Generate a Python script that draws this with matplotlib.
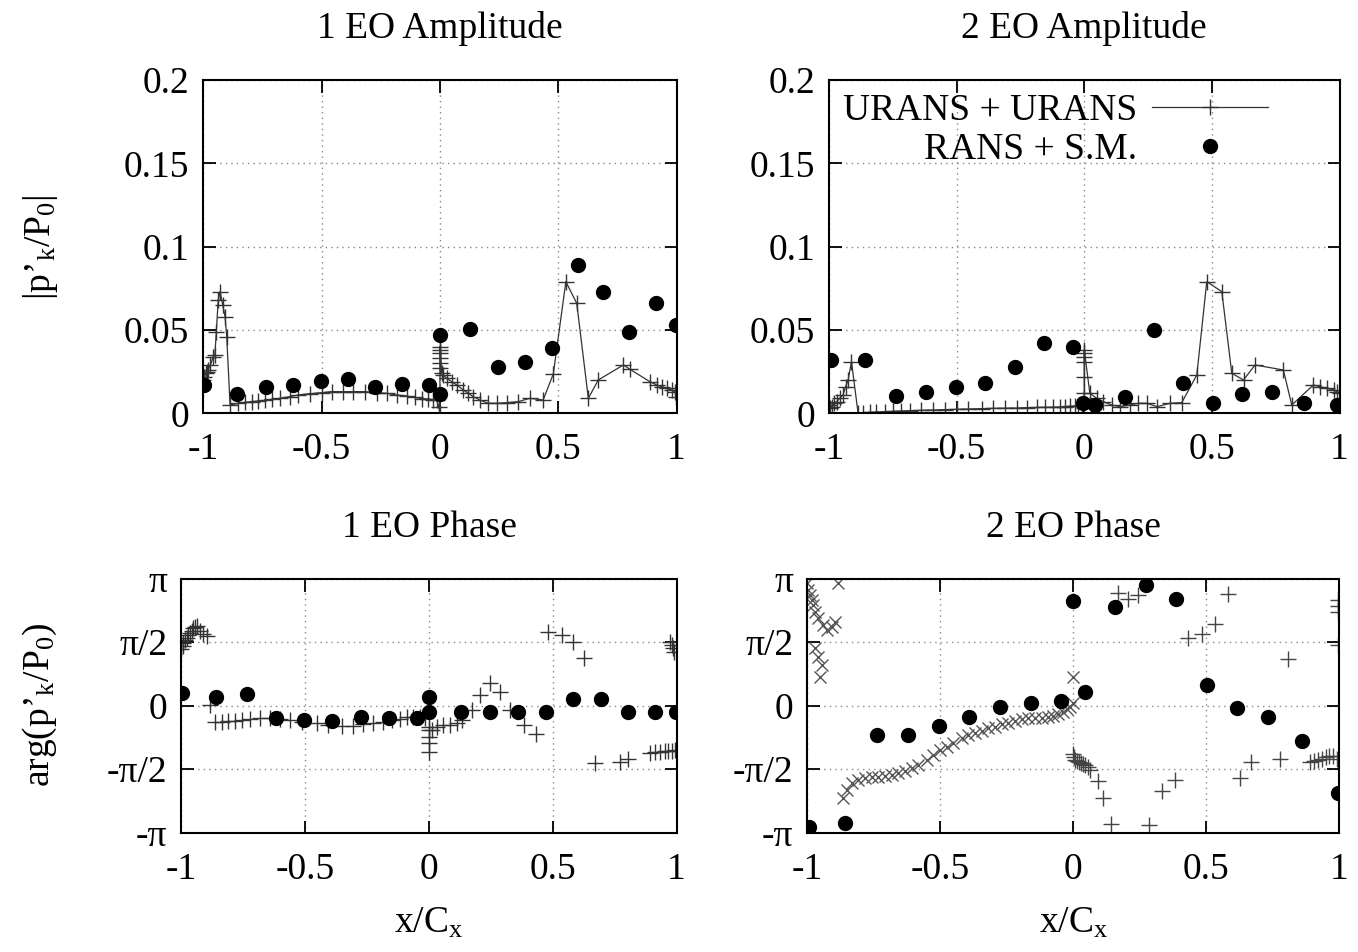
"""
Unsteady pressure harmonics: amplitude and phase of 1 EO and 2 EO
URANS + URANS vs RANS + S.M.
"""

import numpy as np
import matplotlib
matplotlib.use('Agg')
import matplotlib.pyplot as plt

plt.rcParams['font.family'] = ['Liberation Serif', 'DejaVu Serif']
plt.rcParams['mathtext.fontset'] = 'custom'
plt.rcParams['mathtext.rm'] = 'Liberation Serif'
plt.rcParams['mathtext.it'] = 'Liberation Serif'
plt.rcParams['axes.unicode_minus'] = False

FS = 27

# ---------------- 1 EO amplitude ----------------
amp1_urans_x = [-1.0, -0.995, -0.99, -0.985, -0.98, -0.97, -0.958, -0.951, -0.945, -0.937, -0.929,
                -0.918, -0.908, -0.901, -0.887,
                -0.852, -0.824, -0.796, -0.768, -0.739, -0.711, -0.676, -0.634, -0.599, -0.549,
                -0.500, -0.458, -0.408, -0.366, -0.317, -0.267, -0.225, -0.183, -0.141, -0.106,
                -0.077, -0.049, -0.028, -0.014, -0.005, 0.0,
                0.0, 0.0, 0.0, 0.0, 0.0, 0.0,
                0.007, 0.014, 0.028, 0.049, 0.071, 0.099, 0.120, 0.141, 0.169, 0.204, 0.240,
                0.282, 0.331, 0.380, 0.436, 0.479, 0.532, 0.578, 0.627, 0.669, 0.775, 0.803,
                0.887, 0.916, 0.937, 0.958, 0.979, 0.993, 0.997]
amp1_urans_y = [0.020, 0.022, 0.024, 0.025, 0.026, 0.029, 0.034, 0.035, 0.049, 0.068, 0.073,
                0.065, 0.058, 0.046, 0.005,
                0.006, 0.0066, 0.007, 0.0074, 0.0078, 0.0084, 0.009, 0.010, 0.011, 0.0118,
                0.0124, 0.013, 0.013, 0.013, 0.013, 0.0124, 0.012, 0.011, 0.0104, 0.0095,
                0.0088, 0.0086, 0.0082, 0.008, 0.004, 0.0,
                0.027, 0.030, 0.033, 0.036, 0.038, 0.040,
                0.024, 0.023, 0.021, 0.019, 0.017, 0.014, 0.012, 0.010, 0.008, 0.006, 0.006,
                0.0064, 0.007, 0.009, 0.008, 0.0236, 0.079, 0.066, 0.009, 0.020, 0.029, 0.0264,
                0.019, 0.017, 0.016, 0.015, 0.014, 0.013, 0.010]
amp1_rans_x = [-0.996, -0.859, -0.737, -0.620, -0.503, -0.390, -0.275, -0.162, -0.045, 0.0, 0.0,
               0.127, 0.246, 0.359, 0.472, 0.582, 0.690, 0.800, 0.911, 0.997]
amp1_rans_y = [0.017, 0.0116, 0.016, 0.017, 0.0194, 0.0204, 0.016, 0.0176, 0.017, 0.047, 0.0116,
               0.0504, 0.0276, 0.031, 0.0394, 0.089, 0.073, 0.049, 0.066, 0.053]

# ---------------- 2 EO amplitude ----------------
amp2_urans_x = [-1.0, -0.995, -0.99, -0.98, -0.97, -0.958, -0.945, -0.935, -0.925, -0.912, -0.886,
                -0.867, -0.840, -0.814, -0.782, -0.749, -0.716, -0.684, -0.638, -0.592, -0.546,
                -0.500, -0.455, -0.402, -0.357, -0.311, -0.265, -0.226, -0.187, -0.154, -0.122,
                -0.095, -0.076, -0.056, -0.036, -0.024, -0.010, 0.0,
                0.0, 0.0, 0.0, 0.0, 0.0, 0.0,
                0.022, 0.049, 0.075, 0.107, 0.140, 0.179, 0.212, 0.245, 0.286, 0.336, 0.382,
                0.441, 0.480, 0.539, 0.578, 0.624, 0.669, 0.780, 0.813, 0.898, 0.924, 0.951,
                0.977, 0.990, 1.0]
amp2_urans_y = [0.005, 0.003, 0.004, 0.006, 0.007, 0.009, 0.011, 0.016, 0.020, 0.031, 0.0,
                0.0004, 0.0006, 0.0008, 0.001, 0.0012, 0.0014, 0.0016, 0.0018, 0.002, 0.0022,
                0.0024, 0.0026, 0.0028, 0.003, 0.0031, 0.0032, 0.0034, 0.0035, 0.0036, 0.0037,
                0.0038, 0.004, 0.0042, 0.0043, 0.0044, 0.0045, 0.003,
                0.012, 0.022, 0.031, 0.034, 0.036, 0.038,
                0.012, 0.009, 0.007, 0.005, 0.004, 0.005, 0.006, 0.006, 0.004, 0.006, 0.0064,
                0.023, 0.079, 0.073, 0.024, 0.020, 0.029, 0.026, 0.005, 0.017, 0.016, 0.015,
                0.014, 0.013, 0.012]
amp2_rans_x = [-0.993, -0.860, -0.736, -0.621, -0.503, -0.387, -0.272, -0.158, -0.045, -0.004,
               0.042, 0.160, 0.273, 0.388, 0.503, 0.617, 0.735, 0.862, 0.990]
amp2_rans_y = [0.032, 0.032, 0.0106, 0.013, 0.0156, 0.018, 0.028, 0.042, 0.040, 0.006,
               0.005, 0.010, 0.050, 0.018, 0.0064, 0.0116, 0.0126, 0.006, 0.005]

# ---------------- 1 EO phase ----------------
ph1_urans_x = [-1.0, -0.995, -0.992, -0.985, -0.979, -0.972, -0.965, -0.958, -0.952, -0.945,
               -0.938, -0.925, -0.911, -0.898, -0.884,
               -0.864, -0.837, -0.811, -0.784, -0.757, -0.723, -0.683, -0.642, -0.602, -0.561,
               -0.514, -0.454, -0.407, -0.353, -0.306, -0.265, -0.225, -0.185, -0.151, -0.117,
               -0.090, -0.063, -0.036, -0.016,
               0.0, 0.0, 0.0, 0.0, 0.0,
               0.011, 0.031, 0.058, 0.085, 0.112, 0.132, 0.172, 0.206, 0.246, 0.287, 0.327,
               0.384, 0.432, 0.482, 0.536, 0.583, 0.626, 0.670, 0.771, 0.805,
               0.892, 0.913, 0.933, 0.953, 0.967, 0.980, 0.993,
               0.975, 0.98, 0.985, 0.99]
ph1_urans_y = [1.40, 1.48, 1.55, 1.62, 1.68, 1.74, 1.80, 1.86, 1.92, 1.95,
               1.96, 1.85, 1.78, 1.72, 0.02,
               -0.40, -0.40, -0.38, -0.37, -0.35, -0.33, -0.31, -0.31, -0.33, -0.35,
               -0.40, -0.44, -0.48, -0.49, -0.49, -0.46, -0.44, -0.40, -0.35, -0.33,
               -0.29, -0.27, -0.27, -0.31,
               -0.52, -0.60, -0.77, -0.93, -1.14,
               -0.60, -0.52, -0.48, -0.47, -0.44, -0.35, -0.11, 0.26, 0.55, 0.35, -0.11,
               -0.48, -0.70, 1.83, 1.75, 1.58, 1.17, -1.41, -1.39, -1.33,
               -1.16, -1.15, -1.14, -1.13, -1.12, -1.11, -1.10,
               1.58, 1.50, 1.42, 1.34]
ph1_rans_x = [-0.997, -0.860, -0.736, -0.618, -0.505, -0.390, -0.274, -0.162, -0.047, 0.0, 0.0,
              0.128, 0.246, 0.358, 0.471, 0.583, 0.693, 0.805, 0.913, 0.998]
ph1_rans_y = [0.32, 0.22, 0.29, -0.31, -0.35, -0.37, -0.27, -0.31, -0.31, 0.22, -0.15,
              -0.15, -0.15, -0.15, -0.15, 0.16, 0.16, -0.15, -0.15, -0.15]

# ---------------- 2 EO phase ----------------
# URANS suction side (x markers)
ph2_ss_x = [-1.002, -0.996, -0.990, -0.983, -0.977, -0.971, -0.959, -0.940, -0.927, -0.908,
            -0.896, -0.883, -0.971, -0.959, -0.946, -0.952,
            -0.865, -0.852, -0.833, -0.808, -0.783, -0.758, -0.733, -0.708, -0.683, -0.658,
            -0.633, -0.608, -0.583, -0.551, -0.526, -0.501, -0.476, -0.451, -0.420, -0.395,
            -0.370, -0.344, -0.320, -0.294, -0.269, -0.244, -0.219, -0.194, -0.169, -0.144,
            -0.119, -0.094, -0.075, -0.056, -0.038, -0.025, -0.012, 0.0, 0.0]
ph2_ss_y = [3.03, 2.86, 2.74, 2.61, 2.49, 2.33, 2.16, 2.00, 1.87, 1.95,
            2.08, 3.03, 1.42, 1.21, 1.01, 0.72,
            -2.29, -2.09, -1.92, -1.84, -1.80, -1.77, -1.76, -1.74, -1.71, -1.67,
            -1.62, -1.55, -1.47, -1.34, -1.22, -1.10, -1.01, -0.93, -0.81, -0.72,
            -0.68, -0.62, -0.56, -0.52, -0.45, -0.42, -0.37, -0.34, -0.30, -0.30,
            -0.30, -0.29, -0.25, -0.21, -0.15, -0.09, -0.02, 0.06, 0.70]
# URANS pressure side (+ markers)
ph2_ps_x = [0.0, 0.003, 0.008, 0.015, 0.022, 0.030, 0.038, 0.044, 0.055, 0.063, 0.094, 0.113,
            0.140, 0.286, 0.332, 0.382, 0.627, 0.668, 0.777,
            0.890, 0.905, 0.920, 0.935, 0.950, 0.962, 0.975, 0.990,
            0.169, 0.207, 0.244, 0.432, 0.483, 0.533, 0.583, 0.808,
            0.996, 0.996, 0.996, 0.996]
ph2_ps_y = [-1.20, -1.28, -1.34, -1.38, -1.40, -1.42, -1.45, -1.47, -1.52, -1.59, -1.86, -2.29,
            -2.93, -2.95, -2.10, -1.84, -1.80, -1.39, -1.33,
            -1.40, -1.38, -1.35, -1.31, -1.27, -1.25, -1.25, -1.32,
            2.80, 2.63, 2.74, 1.67, 1.77, 2.02, 2.76, 1.15,
            2.61, 2.47, 2.33, 1.50]
ph2_rans_x = [-0.992, -0.858, -0.737, -0.620, -0.504, -0.391, -0.276, -0.160, -0.045, 0.0,
              0.044, 0.157, 0.273, 0.386, 0.501, 0.617, 0.733, 0.861, 0.994]
ph2_rans_y = [-2.99, -2.91, -0.72, -0.72, -0.50, -0.29, -0.02, 0.06, 0.12, 2.60,
              0.35, 2.43, 2.99, 2.63, 0.51, -0.06, -0.27, -0.87, -2.15]

x_ticks = [-1, -0.5, 0, 0.5, 1]
x_ticklabels = ['-1', '-0.5', '0', '0.5', '1']
amp_ticks = [0, 0.05, 0.1, 0.15, 0.2]
amp_ticklabels = ['0', '0.05', '0.1', '0.15', '0.2']
ph_ticks = [-np.pi, -np.pi / 2, 0, np.pi / 2, np.pi]
ph_ticklabels = ['-π', '-π/2', '0', 'π/2', 'π']

W, H = 1358, 952
fig = plt.figure(figsize=(W / 100, H / 100), dpi=100)


def rect(x0, x1, y_top, y_bot):
    return [x0 / W, 1 - y_bot / H, (x1 - x0) / W, (y_bot - y_top) / H]


ax1 = fig.add_axes(rect(203.3, 676.6, 80, 413.3))
ax2 = fig.add_axes(rect(829, 1339.5, 80, 413.3))
ax3 = fig.add_axes(rect(181.4, 676.6, 578.7, 832.7))
ax4 = fig.add_axes(rect(807.3, 1339.3, 578.7, 832.7))

urans_c = '#333333'
line_kw = dict(color=urans_c, lw=0.9, marker='+', ms=11, mew=1.0)
dot_kw = dict(color='black', ls='none', marker='o', ms=10)

ax1.plot(amp1_urans_x, amp1_urans_y, **line_kw)
ax1.plot(amp1_rans_x, amp1_rans_y, **dot_kw)

ax2.plot(amp2_urans_x, amp2_urans_y, label='URANS + URANS', **line_kw)
ax2.plot(amp2_rans_x, amp2_rans_y, label='RANS + S.M.', **dot_kw)

ax3.plot(ph1_urans_x, ph1_urans_y, ls='none', marker='+', ms=11, mew=1.0, color=urans_c)
ax3.plot(ph1_rans_x, ph1_rans_y, **dot_kw)

ax4.plot(ph2_ss_x, ph2_ss_y, ls='none', marker='x', ms=9, mew=1.0, color='#555555')
ax4.plot(ph2_ps_x, ph2_ps_y, ls='none', marker='+', ms=11, mew=1.0, color='#444444')
ax4.plot(ph2_rans_x, ph2_rans_y, **dot_kw)

for ax in (ax1, ax2, ax3, ax4):
    ax.set_xlim(-1, 1)
    ax.set_xticks(x_ticks)
    ax.set_xticklabels(x_ticklabels)
    ax.grid(True, ls=(0, (1, 3)), color='#888888', lw=1.0)
    ax.tick_params(direction='in', length=9, width=1.3, top=True, right=True,
                   labelsize=FS)
    ax.tick_params(axis='x', pad=14)
    ax.tick_params(axis='y', pad=10)
    for sp in ax.spines.values():
        sp.set_linewidth(1.5)
    ax.set_axisbelow(True)

for ax in (ax1, ax2):
    ax.set_ylim(0, 0.2)
    ax.set_yticks(amp_ticks)
    ax.set_yticklabels(amp_ticklabels)

for ax in (ax3, ax4):
    ax.set_ylim(-np.pi, np.pi)
    ax.set_yticks(ph_ticks)
    ax.set_yticklabels(ph_ticklabels)

ax1.set_title('1 EO Amplitude', fontsize=FS, pad=30)
ax2.set_title('2 EO Amplitude', fontsize=FS, pad=30)
ax3.set_title('1 EO Phase', fontsize=FS, pad=30)
ax4.set_title('2 EO Phase', fontsize=FS, pad=30)

ax3.set_xlabel(r'x/C$_\mathrm{x}$', fontsize=FS, labelpad=14)
ax4.set_xlabel(r'x/C$_\mathrm{x}$', fontsize=FS, labelpad=14)
fig.text(40 / W, 1 - 247 / H, r'|p’$_\mathrm{k}$/P$_0$|', rotation=90, fontsize=FS,
         ha='center', va='center')
fig.text(40 / W, 1 - 705 / H, r'arg(p’$_\mathrm{k}$/P$_0$)', rotation=90, fontsize=FS,
         ha='center', va='center')

ax2.legend(loc='upper right', bbox_to_anchor=(0.86, 0.96), frameon=False, fontsize=FS,
           markerfirst=False, handlelength=3.1, handletextpad=0.4, labelspacing=0.12,
           borderpad=0, borderaxespad=0)

fig.savefig('out.png', dpi=100)
